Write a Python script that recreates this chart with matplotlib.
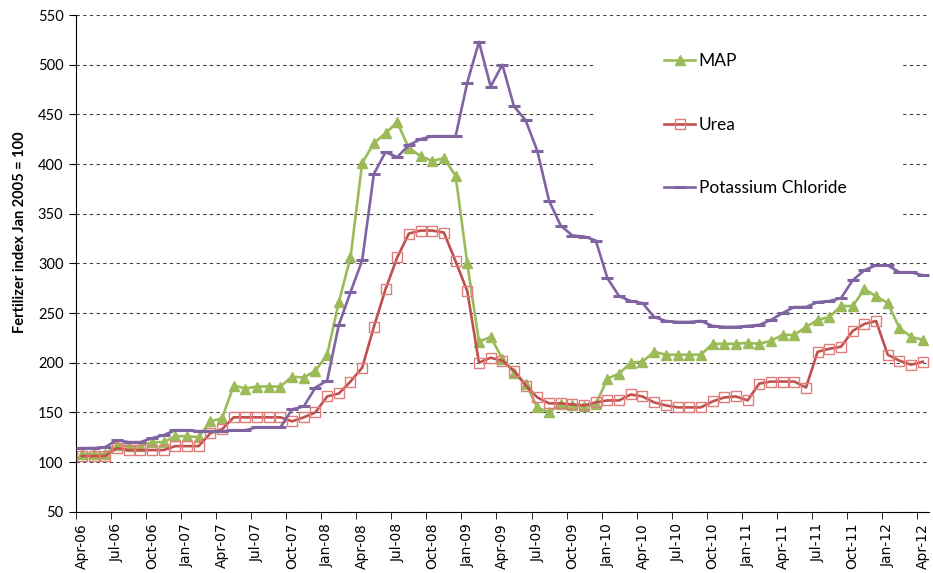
import numpy as np
import matplotlib
matplotlib.use("Agg")
import matplotlib.pyplot as plt
from matplotlib.patches import Rectangle

# monthly index values, Apr-06 .. Apr-12 (Jan 2005 = 100)
map_idx = [108, 108, 108, 117, 116, 116, 120, 120, 126, 126, 125, 141, 144,
           177, 174, 176, 176, 176, 186, 185, 192, 208, 261, 306, 401, 421,
           431, 442, 416, 408, 403, 406, 388, 300, 221, 226, 204, 190, 179,
           155, 150, 158, 157, 156, 158, 184, 189, 200, 201, 211, 208, 208,
           208, 208, 219, 219, 219, 220, 219, 222, 228, 228, 236, 243, 246,
           257, 257, 274, 267, 260, 235, 226, 223]
urea_idx = [106, 106, 106, 114, 112, 112, 112, 112, 116, 116, 116, 129, 133,
            145, 145, 145, 145, 145, 141, 145, 150, 166, 169, 181, 195, 236,
            274, 306, 330, 333, 333, 331, 302, 272, 200, 205, 202, 192, 177,
            165, 159, 159, 158, 157, 160, 162, 162, 168, 166, 160, 157, 155,
            155, 155, 161, 165, 166, 162, 179, 181, 181, 181, 175, 211, 214,
            216, 232, 239, 242, 208, 202, 198, 201]
potash_idx = [114, 114, 115, 122, 120, 120, 124, 127, 132, 132, 131, 131, 131,
              132, 132, 135, 135, 135, 153, 156, 175, 182, 238, 271, 303, 390,
              412, 407, 419, 425, 428, 428, 428, 482, 523, 478, 500, 458, 444,
              413, 363, 338, 328, 327, 323, 285, 267, 262, 260, 246, 242, 241,
              241, 242, 237, 236, 236, 237, 238, 243, 250, 256, 256, 261, 262,
              265, 283, 293, 298, 298, 291, 291, 288]

tick_labels = ['Apr-06', 'Jul-06', 'Oct-06', 'Jan-07', 'Apr-07', 'Jul-07',
               'Oct-07', 'Jan-08', 'Apr-08', 'Jul-08', 'Oct-08', 'Jan-09',
               'Apr-09', 'Jul-09', 'Oct-09', 'Jan-10', 'Apr-10', 'Jul-10',
               'Oct-10', 'Jan-11', 'Apr-11', 'Jul-11', 'Oct-11', 'Jan-12',
               'Apr-12']

plt.rcParams['font.family'] = ['Lato', 'DejaVu Sans']

x = np.arange(len(map_idx))

fig = plt.figure(figsize=(9.33, 5.73), dpi=100)
ax = fig.add_axes([0.0815, 0.107, 0.9138, 0.8668])

ax.plot(x, map_idx, color='#9BBB59', lw=1.9, marker='^', ms=7.5,
        mec='#9BBB59', mfc='#9BBB59', label='MAP', zorder=3)
ax.plot(x, urea_idx, color='#C0504D', lw=1.9, marker='s', ms=7.5,
        mfc='none', mec='#E07C7A', mew=1.0, label='Urea', zorder=4)
ax.plot(x, potash_idx, color='#8064A2', lw=1.9, marker='_', ms=8,
        mew=2.2, label='Potassium Chloride', zorder=5)

ax.set_xlim(-0.5, len(x) - 0.5)
ax.set_ylim(50, 550)
ax.set_yticks(np.arange(50, 551, 50))
ax.tick_params(axis='y', labelsize=10.5, length=5, pad=4)

ax.set_xticks(x[::3])
ax.set_xticklabels(tick_labels, rotation=90, family='DejaVu Sans', fontsize=10)
ax.set_xticks(np.arange(-0.5, len(x) - 1, 3), minor=True)
ax.tick_params(axis='x', which='major', length=0, pad=8)
ax.tick_params(axis='x', which='minor', length=5)

ax.set_axisbelow(True)
ax.yaxis.grid(True, color='#404040', lw=0.8, linestyle=(0, (3, 3)))
ax.spines['top'].set_visible(False)
ax.spines['right'].set_visible(False)

ax.set_ylabel('Fertilizer index Jan 2005 = 100', fontsize=10.5,
              fontweight='bold')
ax.yaxis.set_label_coords(-0.057, 0.562)

# white backdrop behind the legend, hiding the grid there
ax.add_patch(Rectangle((0.61, 0.571), 0.357, 0.403, transform=ax.transAxes,
                       facecolor='white', edgecolor='none', zorder=1))
ax.legend(loc='upper left', bbox_to_anchor=(0.7117, 0.9075),
          bbox_transform=fig.transFigure, frameon=False, fontsize=12.5,
          handlelength=1.8, handletextpad=0.2, labelspacing=2.75,
          borderpad=0, borderaxespad=0)

fig.savefig('out.png', dpi=100)
